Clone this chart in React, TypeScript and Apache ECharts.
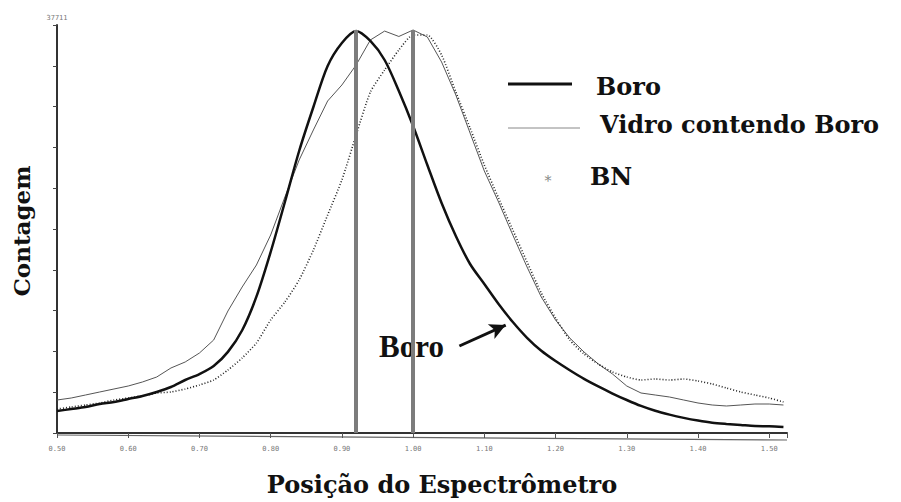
import React, { useEffect, useRef } from "react";
import * as echarts from "echarts";

// Spectrometer position (x) of every sample
const positions = [
  0.5, 0.52, 0.54, 0.56, 0.58, 0.6, 0.62, 0.64, 0.66, 0.68,
  0.7, 0.72, 0.74, 0.76, 0.78, 0.8, 0.82, 0.84, 0.86, 0.88,
  0.9, 0.92, 0.94, 0.96, 0.98, 1.0, 1.02, 1.04, 1.06, 1.08,
  1.1, 1.12, 1.14, 1.16, 1.18, 1.2, 1.22, 1.24, 1.26, 1.28,
  1.3, 1.32, 1.34, 1.36, 1.38, 1.4, 1.42, 1.44, 1.46, 1.48,
  1.5, 1.52,
];

// Counts: Boro (thick line)
const boro = [
  2033, 2218, 2403, 2680, 2865, 3143, 3420, 3790, 4252, 4899,
  5453, 6193, 7500, 9500, 12600, 16730, 21351, 26065, 30132, 33922,
  36048, 37157, 36233, 34476, 31611, 28376, 24771, 21259, 18209, 15621,
  13772, 11923, 10260, 8800, 7600, 6650, 5800, 5000, 4300, 3650,
  3050, 2500, 2050, 1700, 1400, 1150, 950, 832, 739, 647,
  620, 555,
];

// Counts: Vidro contendo Boro (thin line)
const vidro = [
  3050, 3235, 3512, 3790, 4067, 4344, 4714, 5176, 6008, 6563,
  7394, 8596, 11276, 13495, 15528, 18301, 21813, 25233, 28006, 30687,
  32166, 34014, 36325, 37150, 36650, 37250, 36602, 34292, 31241, 27729,
  24217, 21351, 18301, 15343, 12570, 10445, 8781, 7487, 6378, 5453,
  4344, 3697, 3512, 3327, 3050, 2773, 2588, 2496, 2588, 2680,
  2680, 2588,
];

// Counts: BN (dots)
const bn = [
  2218, 2403, 2588, 2773, 3050, 3235, 3420, 3697, 3790, 4067,
  4437, 4899, 5823, 6932, 8319, 10445, 12108, 14142, 16915, 20150,
  23385, 27544, 31519, 33552, 35401, 36787, 36787, 34939, 31519, 28191,
  24771, 21721, 18763, 15806, 12940, 10629, 8596, 7302, 6378, 5638,
  5176, 4899, 4991, 4899, 4991, 4806, 4529, 4159, 3790, 3512,
  3235, 2865,
];

const yMax = 37711;
const referenceLines = [0.92, 1.0];
const arrowFrom = [1.065, 8041];
const arrowTo = [1.13, 9980];

const serif = "DejaVu Serif";

export default function App() {
  const ref = useRef<HTMLDivElement>(null);

  useEffect(() => {
    document.body.style.margin = "0";
    const chart = echarts.init(ref.current!, null, { renderer: "svg" });
    const pair = (arr: number[]) => positions.map((x, i) => [x, arr[i]]);

    const vLines = referenceLines.map((x) => [
      { coord: [x, 0], symbol: "none" },
      {
        coord: [x, 37250],
        symbol: "none",
        lineStyle: { color: "#7c7c7c", width: 4, type: "solid" },
      },
    ]);
    const arrow = [
      { coord: arrowFrom, symbol: "none" },
      {
        coord: arrowTo,
        symbol: "arrow",
        symbolSize: [12, 16],
        lineStyle: { color: "#111", width: 3, type: "solid" },
      },
    ];

    chart.setOption({
      animation: false,
      backgroundColor: "#ffffff",
      grid: { left: 57, right: 114, top: 25, bottom: 69 },
      xAxis: {
        type: "value",
        min: 0.5,
        max: 1.525,
        interval: 0.1,
        axisLine: { lineStyle: { color: "#333", width: 2 } },
        axisTick: { length: 5, lineStyle: { color: "#555" } },
        axisLabel: {
          formatter: (v: number) =>
            Math.abs(v * 10 - Math.round(v * 10)) > 1e-6 ? "" : v.toFixed(2),
          fontSize: 7,
          fontFamily: "DejaVu Sans Mono",
          color: "#777",
          margin: 12,
        },
        splitLine: { show: false },
      },
      yAxis: {
        type: "value",
        min: 0,
        max: yMax,
        interval: yMax / 10,
        name: String(yMax),
        nameLocation: "end",
        nameGap: 4,
        nameTextStyle: {
          fontSize: 7,
          color: "#777",
          fontFamily: "DejaVu Sans Mono",
          align: "center",
        },
        axisLine: { show: true, lineStyle: { color: "#333", width: 2 } },
        axisTick: { show: true, length: 4, lineStyle: { color: "#444" } },
        axisLabel: { show: false },
        splitLine: { show: false },
      },
      series: [
        {
          name: "Vidro contendo Boro",
          type: "line",
          data: pair(vidro),
          showSymbol: false,
          lineStyle: { color: "#555", width: 1 },
          z: 2,
        },
        {
          name: "BN",
          type: "line",
          data: pair(bn),
          showSymbol: false,
          smooth: 0.2,
          lineStyle: { color: "#222", width: 1.6, type: [1, 2] },
          z: 2,
        },
        {
          name: "Boro",
          type: "line",
          data: pair(boro),
          showSymbol: false,
          smooth: 0.3,
          lineStyle: { color: "#111", width: 2.5 },
          z: 3,
          markLine: {
            silent: true,
            symbol: "none",
            label: { show: false },
            lineStyle: { color: "#7c7c7c", width: 4, type: "solid" },
            data: [...vLines, arrow],
          },
        },
      ],
      graphic: [
        // baseline line just under the axis
        {
          type: "line",
          shape: { x1: 57, y1: 435, x2: 787, y2: 440 },
          style: { stroke: "#666", lineWidth: 1.2 },
        },
        // legend
        {
          type: "line",
          shape: { x1: 508, y1: 84, x2: 572, y2: 84 },
          style: { stroke: "#111", lineWidth: 3 },
        },
        {
          type: "text",
          x: 596,
          y: 86,
          style: {
            text: "Boro",
            font: `bold 24px "${serif}"`,
            fill: "#111",
            verticalAlign: "middle",
          },
        },
        {
          type: "line",
          shape: { x1: 508, y1: 128, x2: 580, y2: 128 },
          style: { stroke: "#888", lineWidth: 1 },
        },
        {
          type: "text",
          x: 600,
          y: 124,
          style: {
            text: "Vidro contendo Boro",
            font: `bold 24px "${serif}"`,
            fill: "#111",
            verticalAlign: "middle",
          },
        },
        {
          type: "text",
          x: 548,
          y: 181,
          style: {
            text: "*",
            font: `14px "${serif}"`,
            fill: "#888",
            align: "center",
            verticalAlign: "middle",
          },
        },
        {
          type: "text",
          x: 590,
          y: 176,
          style: {
            text: "BN",
            font: `bold 24px "${serif}"`,
            fill: "#111",
            verticalAlign: "middle",
          },
        },
        // annotation text
        {
          type: "text",
          x: 379,
          y: 346,
          style: {
            text: "Boro",
            font: `bold 31px "Liberation Serif"`,
            fill: "#111",
            verticalAlign: "middle",
          },
        },
        // axis titles
        {
          type: "text",
          x: 442,
          y: 484,
          style: {
            text: "Posição do Espectrômetro",
            font: `bold 24px "${serif}"`,
            fill: "#111",
            align: "center",
            verticalAlign: "middle",
          },
        },
        {
          type: "text",
          x: 21,
          y: 231,
          rotation: Math.PI / 2,
          style: {
            text: "Contagem",
            font: `bold 23px "${serif}"`,
            fill: "#111",
            align: "center",
            verticalAlign: "middle",
          },
        },
      ],
    });
    return () => chart.dispose();
  }, []);

  return <div ref={ref} style={{ width: 901, height: 502 }} />;
}
